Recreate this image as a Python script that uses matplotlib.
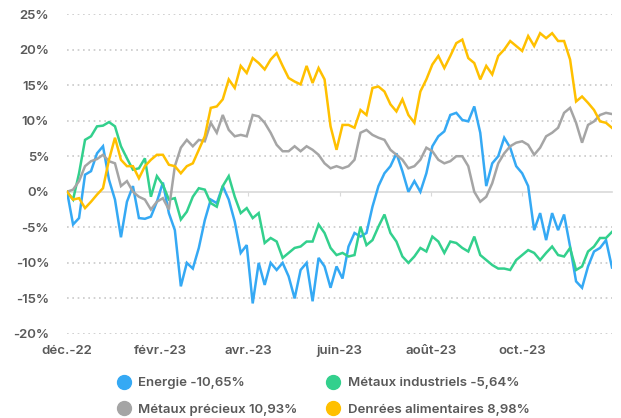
import matplotlib
matplotlib.use("Agg")
import matplotlib.pyplot as plt
from matplotlib.lines import Line2D
import pandas as pd

plt.rcParams['font.family'] = ['Inter', 'DejaVu Sans']

# séries (perf. cumulée en %, un point tous les 4 jours)
dates = pd.date_range("2022-12-01", periods=92, freq="4D")

energie = [
    0, -4.6, -3.7, 2.4, 2.9, 5.4, 6.4, 1.7, -1.1, -6.4, -1.4, 0.8, -3.7, -3.8, -3.5, -1.4,
    1.3, -3.0, -5.4, -13.3, -10.0, -10.8, -7.9, -4.0, -1.1, -1.6, 0.8, -1.1, -4.2, -8.6,
    -7.5, -15.7, -10.0, -13.1, -10.0, -11.0, -10.0, -11.9, -15.0, -11.0, -10.0, -15.4,
    -9.3, -10.5, -13.5, -10.5, -12.2, -7.7, -5.8, -6.3, -5.8, -2.1, 0.8, 2.6, 3.6, 5.4,
    2.9, 0.0, 1.5, 0.0, 2.6, 6.4, 7.8, 8.5, 10.8, 11.1, 10.1, 9.9, 12.0, 8.3, 0.8, 4.0,
    5.0, 7.6, 6.2, 3.6, 2.6, 0.8, -5.4, -3.0, -6.8, -3.0, -5.4, -3.2, -7.7, -12.6, -13.5,
    -10.5, -8.4, -7.9, -6.8, -10.65]

metaux_ind = [
    0, -1.1, 2.6, 7.3, 7.8, 9.2, 9.3, 9.8, 9.2, 6.4, 4.7, 3.1, 3.3, 4.7, -0.7, 2.2,
    1.0, -1.1, -0.9, -3.9, -2.8, -0.7, 0.5, 0.3, -1.6, -2.1, 0.8, 2.2, -0.7, -3.0,
    -2.3, -3.7, -3.0, -7.2, -6.5, -7.0, -9.3, -8.6, -7.9, -7.7, -7.0, -7.0,
    -4.6, -5.8, -7.9, -8.9, -8.6, -9.1, -8.9, -4.9, -7.5, -6.8, -4.9, -3.2, -5.8, -7.0,
    -9.1, -10.0, -9.1, -7.9, -8.4, -6.3, -7.0, -8.6, -7.0, -7.2, -7.9, -8.4, -6.3, -8.9,
    -9.6, -10.3, -10.8, -10.8, -11.0, -9.6, -8.9, -8.2, -8.6, -9.6, -8.6, -7.7, -8.9,
    -9.1, -7.9, -11.0, -10.5, -8.4, -7.7, -6.5, -6.5, -5.64]

metaux_prec = [
    0, 0.3, 1.5, 3.6, 4.3, 4.6, 5.2, 4.3, 4.0, 0.8, 1.5, 0, -0.7, -1.1, -2.5, -1.4,
    -0.9, -2.5, 3.6, 6.2, 7.3, 6.4, 7.3, 7.1, 9.7, 8.3, 10.8, 8.7, 7.8, 8.0,
    7.8, 10.8, 10.6, 9.7, 8.3, 6.6, 5.7, 5.7, 6.4, 5.7, 6.4, 5.9,
    5.2, 4.0, 3.3, 3.6, 3.3, 3.6, 4.5, 8.3, 8.7, 8.0, 7.6, 7.3, 5.9, 5.2,
    4.5, 3.3, 3.6, 4.5, 6.2, 5.7, 4.5, 4.0, 4.3, 5.0, 5.0, 3.6, 0.0, -1.4,
    -0.7, 1.2, 4.0, 5.4, 6.4, 6.9, 7.1, 6.6, 5.2, 6.2, 7.8, 8.3, 9.0,
    11.1, 11.8, 9.7, 6.9, 9.4, 9.9, 10.8, 11.1, 10.93]

denrees = [
    0, -1.1, -0.9, -2.3, -1.4, -0.4, 0.5, 4.5, 7.6, 4.5, 3.6, 3.6, 1.9, 3.6, 4.5, 5.2,
    5.2, 3.8, 3.6, 2.6, 3.6, 4.0, 5.9, 7.8, 11.8, 12.0, 13.0, 15.8, 14.6, 17.7,
    16.7, 18.8, 18.1, 17.2, 18.6, 19.5, 17.7, 16.0, 15.5, 15.1, 17.7, 15.3,
    17.4, 15.8, 9.2, 5.9, 9.4, 9.4, 9.0, 11.5, 10.8, 14.6, 14.8, 14.1, 12.3, 11.3,
    13.0, 10.8, 9.7, 14.1, 15.8, 17.9, 19.1, 17.4, 19.1, 20.9, 21.4, 18.8, 18.1, 15.8,
    17.7, 16.5, 19.1, 20.0, 21.2, 20.5, 19.8, 21.9, 20.5, 22.3, 21.6, 22.3, 21.2,
    21.2, 18.6, 12.7, 13.4, 12.5, 11.5, 9.9, 9.7, 8.98]

series = ["Energie -10,65%", "Métaux industriels -5,64%",
          "Métaux précieux 10,93%", "Denrées alimentaires 8,98%"]
couleurs = ["#35a9f4", "#33d08d", "#a5a5a5", "#ffc000"]

mois = pd.to_datetime(["2022-12-01", "2023-02-01", "2023-04-01",
                       "2023-06-01", "2023-08-01", "2023-10-01"])
mois_labels = ["déc.-22", "févr.-23", "avr.-23", "juin-23", "août-23", "oct.-23"]
yticks = [-20, -15, -10, -5, 0, 5, 10, 15, 20, 25]

texte = "#595959"

fig = plt.figure(figsize=(6.21, 4.18), dpi=100)
ax = fig.add_axes([0.108, 0.201, 0.8775, 0.7655])

for vals, c in zip([energie, metaux_ind, metaux_prec, denrees], couleurs):
    ax.plot(dates, vals, color=c, lw=1.8, solid_joinstyle='miter')

ax.set_xlim(dates[0], dates[-1])
ax.set_ylim(-20, 25)

# grille pointillée sauf zéro
for y in yticks:
    if y != 0:
        ax.axhline(y, color="#c9c9c9", lw=1.2, ls=(0, (1, 2.2)), zorder=0)

for s in ["top", "right", "left"]:
    ax.spines[s].set_visible(False)
ax.spines["bottom"].set_position(("data", 0))
ax.spines["bottom"].set_color("#d9d9d9")
ax.spines["bottom"].set_linewidth(1.2)
ax.spines["bottom"].set_zorder(0)
ax.set_xticks(mois)
ax.tick_params(axis="x", length=3, color="#d9d9d9", labelbottom=False)

ax.set_yticks(yticks)
ax.set_yticklabels([f"{y}%" for y in yticks])
ax.tick_params(axis="y", length=0, pad=13, labelsize=9.5, labelcolor=texte)
for t in ax.get_yticklabels():
    t.set_fontweight("semibold")

sec = ax.secondary_xaxis(0)
sec.set_xticks(mois)
sec.set_xticklabels(mois_labels)
sec.spines["bottom"].set_visible(False)
sec.tick_params(length=0, pad=8, labelsize=9.5, labelcolor=texte)
for t in sec.get_xticklabels():
    t.set_fontweight("semibold")

handles = [Line2D([], [], ls="none", marker="o", ms=10, color=c) for c in couleurs]
order = [0, 2, 1, 3]
leg = fig.legend([handles[i] for i in order], [series[i] for i in order],
                 ncol=2, loc="upper left", bbox_to_anchor=(0.159, 0.126),
                 frameon=False, handletextpad=0.1, columnspacing=1.7,
                 labelspacing=1.05, prop={"size": 9.5, "weight": "semibold"})
for t in leg.get_texts():
    t.set_color(texte)

fig.savefig("out.png", dpi=100)
